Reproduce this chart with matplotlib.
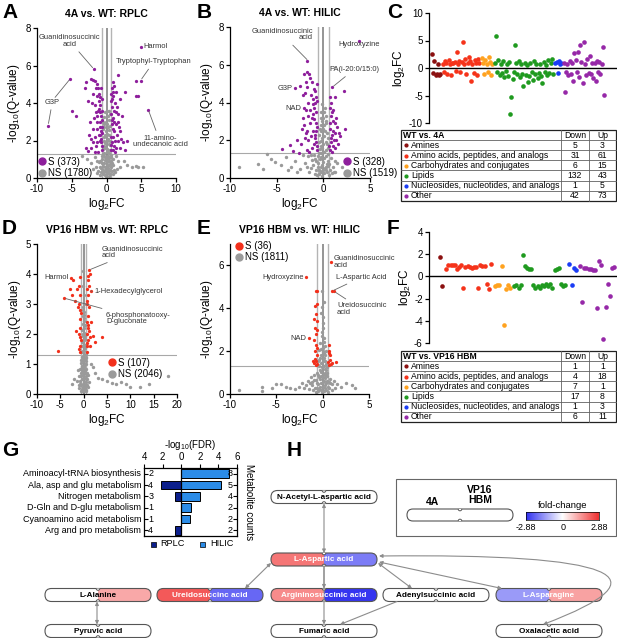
import numpy as np
import matplotlib
matplotlib.use('Agg')
import matplotlib.pyplot as plt
from matplotlib.patches import FancyBboxPatch, Rectangle, Circle, FancyArrowPatch
from matplotlib.path import Path
from matplotlib.lines import Line2D
from matplotlib.colors import LinearSegmentedColormap

plt.rcParams['font.family'] = ['Liberation Sans', 'DejaVu Sans']
plt.rcParams['mathtext.fontset'] = 'custom'
plt.rcParams['mathtext.rm'] = 'Liberation Sans'
plt.rcParams['mathtext.it'] = 'Liberation Sans:italic'
plt.rcParams['mathtext.bf'] = 'Liberation Sans:bold'
plt.rcParams['axes.unicode_minus'] = False

W, H = 617, 638

# ---------------- data ----------------
# volcano A: 4A vs WT RPLC  (log2FC, -log10 q)
a_sig = np.array([
    [-0.7, 1.5], [-0.8, 1.9], [-0.9, 2.3], [-0.65, 2.7], [-1.0, 3.0], [-0.75, 3.3], [-1.2, 3.6], [-0.9, 3.9],
    [-0.7, 4.2], [-1.1, 4.5], [-0.8, 4.8], [-1.3, 5.0], [-1.6, 5.2], [-1.9, 5.25], [-2.2, 5.3], [-1.4, 4.4],
    [-1.7, 3.9], [-1.3, 2.6], [-1.6, 2.2], [-1.9, 1.9], [-2.2, 1.6], [-2.6, 1.45], [-3.0, 1.6], [-1.2, 1.4],
    [-1.5, 1.7], [-1.0, 2.0], [-2.0, 2.6], [-1.8, 3.2], [-2.4, 3.0], [-2.6, 4.1], [-3.1, 4.8], [-2.0, 4.5],
    [-1.1, 4.1], [-0.9, 3.5], [-0.7, 3.1], [-0.8, 2.5], [-1.3, 3.3], [-2.9, 5.1], [-1.5, 4.8], [-1.8, 5.8],
    [-0.65, 1.7], [-0.85, 2.1], [-1.15, 2.3], [-0.7, 2.4], [-1.0, 2.7], [-1.4, 3.0], [-1.1, 3.7], [-0.65, 3.6],
    [-1.5, 3.5], [-0.95, 4.3], [-1.2, 4.8], [-2.1, 4.0], [-2.5, 2.3], [-1.7, 1.4], [-1.35, 1.9],
    [-8.4, 2.8], [-5.2, 5.3], [-4.9, 3.55], [-4.4, 3.3], [-2.3, 2.1],
    [0.7, 1.5], [0.8, 1.9], [0.9, 2.2], [1.1, 2.5], [0.75, 2.9], [1.0, 3.2], [1.3, 3.5], [0.8, 3.8],
    [0.65, 4.1], [1.0, 4.4], [0.8, 4.8], [0.9, 5.1], [1.7, 5.5], [1.2, 2.0], [1.5, 2.3], [1.8, 2.7],
    [2.1, 2.1], [1.4, 1.6], [1.9, 1.6], [2.4, 1.9], [1.6, 3.0], [1.2, 4.0], [1.4, 4.6], [0.7, 3.4],
    [2.2, 3.3], [1.1, 1.7], [2.7, 1.5], [0.9, 4.6], [1.1, 3.0], [0.7, 2.2],
    [0.65, 1.75], [0.9, 2.6], [1.3, 2.9], [0.75, 3.1], [1.05, 3.6], [1.5, 3.8], [0.85, 4.2], [1.1, 4.9],
    [0.7, 4.5], [1.6, 2.0], [2.0, 2.5], [1.25, 1.4], [0.95, 1.5], [1.7, 3.4], [2.0, 4.2],
    [4.9, 7.0], [4.9, 5.2], [4.3, 5.2], [4.2, 4.4], [4.5, 4.4], [6.0, 3.65], [3.0, 2.0], [2.6, 4.6]])
a_ns = np.array([
    [-0.5, 0.2], [-0.3, 0.3], [0.0, 0.25], [0.3, 0.35], [0.5, 0.2], [-0.6, 0.5], [-0.2, 0.6], [0.2, 0.55],
    [0.6, 0.6], [-0.4, 0.8], [0.0, 0.85], [0.4, 0.9], [-0.7, 1.0], [-0.2, 1.1], [0.2, 1.2], [0.7, 1.1],
    [-0.5, 1.3], [0.0, 1.4], [0.5, 1.5], [-0.3, 1.7], [0.3, 1.8], [0.0, 2.0], [-0.4, 2.2], [0.4, 2.3],
    [-0.1, 2.5], [0.2, 2.7], [-0.3, 2.9], [0.3, 3.1], [0.0, 3.3], [-0.2, 3.5], [0.35, 3.6], [-0.8, 0.3],
    [0.8, 0.4], [-1.0, 0.6], [1.0, 0.7], [-1.2, 0.4], [1.2, 0.3], [-0.9, 0.9], [0.9, 1.0], [-0.1, 0.1],
    [0.1, 0.45], [-0.6, 1.2], [0.6, 1.25], [-0.35, 0.4], [0.35, 0.7], [0.0, 0.6], [-0.15, 1.6], [0.15, 2.1],
    [0.45, 2.8], [-0.45, 2.6], [-0.1, 3.0], [0.1, 1.0], [-0.25, 0.95], [0.25, 1.5],
    [-0.55, 0.35], [-0.15, 0.45], [0.25, 0.25], [0.55, 0.45], [-0.45, 0.65], [0.05, 0.7], [0.45, 0.75],
    [-0.65, 0.8], [-0.05, 1.05], [0.35, 1.05], [-0.4, 1.15], [0.65, 0.9], [-0.3, 1.35], [0.3, 1.35],
    [-0.55, 1.55], [0.1, 1.55], [0.55, 1.75], [-0.2, 1.85], [0.45, 2.0], [-0.35, 2.0], [0.1, 2.35],
    [-0.2, 2.3], [0.3, 2.55], [-0.35, 2.7], [0.1, 2.9], [-0.5, 3.0], [0.2, 3.3], [-0.35, 3.25], [0.5, 3.4],
    [0.05, 3.55], [-0.8, 0.55], [0.85, 0.8], [-1.1, 0.85], [1.1, 0.45], [-0.9, 0.15], [0.9, 0.2],
    [-1.4, 0.25], [1.5, 0.5], [-0.25, 0.15], [0.3, 0.1],
    [-3.5, 1.2], [-2.8, 1.0], [-2.2, 0.8], [-1.6, 1.1], [-2.0, 0.5], [-1.5, 0.6], [2.0, 0.6], [2.5, 0.9],
    [3.0, 0.7], [3.6, 0.6], [4.2, 0.65], [4.6, 0.6], [5.3, 0.6], [1.6, 0.9], [-1.3, 0.9], [1.4, 1.15]])

# volcano B: 4A vs WT HILIC
b_sig = np.array([
    [-0.7, 1.5], [-0.8, 1.9], [-0.9, 2.3], [-0.7, 2.7], [-1.0, 3.1], [-0.8, 3.5], [-1.1, 3.9], [-0.75, 4.3],
    [-1.0, 4.7], [-1.2, 5.1], [-1.5, 5.5], [-1.8, 5.6], [-2.1, 5.5], [-1.3, 4.4], [-1.6, 4.0], [-1.9, 3.6],
    [-2.2, 3.2], [-1.4, 2.9], [-1.7, 2.5], [-2.0, 2.1], [-2.4, 1.8], [-1.2, 1.6], [-1.5, 1.4], [-1.8, 1.5],
    [-2.3, 2.6], [-2.0, 4.5], [-1.1, 3.4], [-0.9, 4.0], [-1.4, 5.3], [-1.7, 6.2], [-2.5, 4.9], [-1.3, 2.2],
    [-1.0, 1.8], [-2.8, 2.0], [-0.7, 5.0], [-1.6, 3.3], [-0.8, 2.5],
    [-0.65, 1.7], [-0.85, 2.1], [-1.1, 2.5], [-0.75, 2.9], [-1.25, 3.2], [-0.95, 3.7], [-1.4, 3.6],
    [-0.7, 4.1], [-1.15, 4.2], [-1.7, 4.8], [-0.85, 4.6], [-1.9, 5.1], [-2.2, 4.4], [-1.6, 2.0],
    [-2.1, 2.8], [-1.9, 2.4],
    [-3.0, 4.75], [-2.07, 3.7], [-3.6, 1.75], [-4.4, 1.55], [-2.6, 1.35], [-3.2, 1.45],
    [0.7, 1.5], [0.8, 1.9], [0.9, 2.3], [0.7, 2.6], [1.0, 3.0], [0.8, 3.3], [0.7, 3.7], [0.8, 4.0],
    [0.93, 4.8], [1.1, 2.0], [1.3, 2.4], [1.5, 2.7], [1.2, 1.6], [1.6, 1.8], [0.9, 1.4], [1.0, 3.6],
    [1.2, 4.3], [2.2, 4.6], [2.3, 2.6], [1.8, 2.2], [1.4, 3.2],
    [0.65, 1.7], [0.85, 2.1], [1.05, 2.5], [0.75, 2.9], [1.2, 2.9], [0.9, 3.5], [0.7, 4.3], [1.4, 2.0],
    [1.7, 2.4], [1.05, 1.7], [3.8, 7.25]])
b_ns = np.array([
    [-0.5, 0.2], [-0.2, 0.3], [0.1, 0.25], [0.4, 0.3], [-0.8, 0.4], [0.7, 0.45], [-0.3, 0.6], [0.2, 0.55],
    [-1.1, 0.7], [1.0, 0.6], [-0.6, 0.8], [0.0, 0.85], [0.5, 0.9], [-0.9, 1.0], [-0.3, 1.1], [0.3, 1.15],
    [0.8, 1.05], [-1.3, 1.2], [-0.5, 1.3], [0.1, 1.4], [0.5, 1.6], [-0.3, 1.7], [0.25, 1.9], [-0.1, 2.1],
    [-0.45, 2.3], [0.4, 2.4], [0.0, 2.6], [-0.3, 2.8], [0.3, 3.0], [0.0, 3.2], [-0.2, 3.5], [0.2, 3.7],
    [-1.5, 0.3], [1.3, 0.3], [-1.8, 0.6], [-0.1, 0.1], [0.6, 0.15], [-0.7, 0.15], [-1.2, 0.95], [1.2, 0.9],
    [-0.45, 0.45], [0.35, 0.75], [-0.15, 1.6], [0.1, 2.2], [-0.5, 1.9], [0.5, 2.1], [0.0, 0.4], [-0.25, 2.5],
    [0.25, 2.9], [-0.1, 3.9],
    [-0.4, 0.35], [0.25, 0.45], [-0.6, 0.6], [0.55, 0.65], [-0.1, 0.7], [0.3, 0.6], [-0.8, 0.9],
    [0.65, 0.75], [-0.4, 1.0], [0.1, 1.05], [0.45, 1.25], [-0.6, 1.15], [-0.2, 1.35], [0.3, 1.5],
    [-0.4, 1.55], [0.0, 1.8], [0.4, 1.8], [-0.2, 1.95], [0.15, 2.5], [-0.35, 2.6], [0.1, 2.8],
    [-0.15, 3.0], [0.25, 3.3], [-0.3, 3.2], [0.05, 3.5], [-0.9, 0.2], [0.9, 0.25], [-1.3, 0.55],
    [1.1, 0.3], [-1.0, 1.2],
    [-9.0, 0.6], [-7.0, 0.75], [-6.0, 1.25], [-5.6, 1.0], [-5.2, 0.85], [-4.5, 0.7], [-4.0, 1.1], [-3.5, 0.6],
    [-3.0, 0.9], [-2.5, 0.5], [-2.0, 0.8], [-1.6, 1.15], [1.5, 0.8], [2.0, 0.6], [-6.5, 0.5], [-3.8, 0.4],
    [-2.8, 0.3], [-2.2, 1.2]])

# volcano D: VP16 HBM vs WT RPLC
d_sig = np.array([
    [-0.7, 1.4], [-0.8, 1.6], [-0.65, 1.8], [-0.9, 2.0], [-0.7, 2.2], [-0.8, 2.5], [-0.65, 2.7], [-0.9, 3.0],
    [-0.75, 3.3], [-1.0, 3.6], [-0.8, 3.9], [-1.2, 2.9], [-1.1, 1.5], [-0.7, 1.9], [-0.75, 2.8],
    [-5.5, 1.45], [-4.3, 3.2], [-3.0, 3.5], [-2.7, 3.87], [-2.2, 3.8], [-1.5, 3.5], [-2.5, 3.3], [-1.9, 3.1],
    [-1.6, 2.1],
    [0.7, 1.4], [0.8, 1.6], [0.9, 1.8], [0.7, 2.0], [1.0, 2.2], [0.75, 2.4], [0.9, 2.6], [1.1, 2.9],
    [0.8, 3.1], [1.0, 3.3], [1.2, 3.6], [0.9, 3.8], [1.1, 4.13], [1.3, 4.0], [0.65, 3.5], [1.57, 3.43],
    [1.2, 2.1], [1.4, 1.6], [1.3, 1.9], [0.7, 1.7], [0.85, 2.3], [0.7, 3.0], [1.0, 3.95],
    [2.0, 1.95], [2.5, 1.75], [4.0, 1.9], [1.6, 2.4]])
d_ns = np.array([
    [-0.6, 0.1], [-0.3, 0.15], [0.0, 0.1], [0.3, 0.2], [0.6, 0.15], [-0.5, 0.3], [-0.1, 0.35], [0.2, 0.3],
    [0.5, 0.4], [-0.7, 0.45], [-0.3, 0.5], [0.1, 0.55], [0.4, 0.6], [0.8, 0.5], [-0.5, 0.7], [-0.1, 0.75],
    [0.3, 0.8], [0.7, 0.7], [-0.8, 0.85], [-0.3, 0.9], [0.1, 0.95], [0.5, 1.0], [-0.6, 1.05], [-0.2, 1.1],
    [0.2, 1.15], [0.6, 1.2], [-0.4, 1.25], [0.0, 1.3], [0.4, 1.35], [-0.2, 1.45], [0.2, 1.55], [0.0, 1.65],
    [-0.3, 1.75], [0.3, 1.85], [-0.1, 1.95], [0.1, 2.05], [-0.3, 2.15], [0.25, 2.3], [0.0, 2.45], [-0.2, 2.6],
    [0.15, 2.75], [-0.05, 2.9], [-0.9, 0.2], [0.9, 0.25], [-1.0, 0.6], [1.0, 0.65], [-0.05, 0.2], [-0.45, 0.95],
    [0.45, 1.1], [0.05, 0.4], [-0.05, 4.1], [0.1, 3.3], [-0.15, 3.6],
    [-0.4, 0.1], [0.4, 0.1], [-0.2, 0.25], [0.1, 0.2], [-0.6, 0.6], [0.6, 0.5], [-0.2, 0.65], [0.2, 0.7],
    [-0.4, 0.8], [0.4, 0.85], [0.0, 0.9], [-0.5, 1.15], [0.3, 1.0], [-0.1, 1.2], [0.5, 1.25], [-0.3, 1.4],
    [0.1, 1.45], [-0.45, 1.6], [0.35, 1.65], [0.0, 1.8], [-0.2, 2.0], [0.2, 1.95], [0.0, 2.2], [-0.1, 2.35],
    [0.1, 2.55], [0.05, 2.65], [-0.1, 2.8], [0.0, 3.0], [-0.8, 0.35], [0.75, 0.3], [-1.1, 0.3], [1.2, 0.4],
    [-1.5, 0.45], [-2.0, 0.5], [-1.2, 0.8], [-2.5, 0.35], [1.5, 1.0], [2.0, 0.9], [2.5, 0.7], [3.0, 0.55],
    [4.0, 0.5], [5.0, 0.45], [6.0, 0.38], [7.0, 0.35], [8.0, 0.4], [9.0, 0.35], [10.0, 0.22], [12.0, 0.25],
    [14.0, 0.35], [18.0, 0.6]])

# volcano E: VP16 HBM vs WT HILIC
e_sig = np.array([
    [-0.75, 4.8], [-0.6, 4.8], [-0.8, 4.1], [-0.6, 4.2], [-0.7, 3.75], [-0.65, 3.4], [-0.8, 3.1], [-0.6, 3.0],
    [-0.75, 2.8], [-0.9, 2.5], [-0.7, 2.3], [-0.6, 2.15], [-0.85, 2.0], [-0.65, 1.8], [-0.8, 1.65], [-0.7, 1.55],
    [-0.9, 1.45], [-0.6, 1.4], [-1.0, 1.55], [-0.75, 1.35], [-1.8, 5.45], [-1.5, 2.6], [-0.95, 3.5],
    [0.9, 6.15], [1.0, 4.8], [1.2, 4.8], [0.65, 2.3], [0.7, 2.0], [0.75, 1.6], [0.6, 1.5], [1.0, 1.45],
    [1.4, 1.5], [0.7, 1.35], [0.8, 1.8], [0.65, 1.9], [0.9, 1.4]])
e_ns = np.array([
    [-0.5, 0.15], [-0.2, 0.2], [0.1, 0.15], [0.4, 0.2], [-0.8, 0.3], [0.7, 0.3], [-0.3, 0.35], [0.2, 0.4],
    [-1.1, 0.4], [1.0, 0.45], [-0.6, 0.5], [0.0, 0.55], [0.5, 0.6], [-0.9, 0.65], [-0.3, 0.7], [0.3, 0.75],
    [0.8, 0.7], [-1.3, 0.8], [-0.5, 0.9], [0.1, 0.95], [0.5, 1.0], [-0.3, 1.1], [0.25, 1.15], [-0.1, 1.25],
    [-0.45, 1.35], [0.4, 1.4], [0.0, 1.55], [-0.3, 1.7], [0.3, 1.8], [0.0, 1.95], [-0.2, 2.1], [0.2, 2.25],
    [-1.5, 0.25], [1.3, 0.3], [-1.8, 0.4], [-0.1, 0.1], [0.6, 0.1], [-0.7, 0.1], [-1.2, 0.55], [1.2, 0.6],
    [-0.45, 0.45], [0.35, 0.5], [-0.15, 0.85], [0.1, 1.7], [-0.5, 1.55], [0.5, 1.25], [0.0, 0.35], [-0.25, 2.4],
    [0.15, 2.6], [-0.1, 2.9], [0.05, 3.3], [-0.2, 3.8], [0.1, 4.3], [-0.1, 4.8], [0.0, 2.0], [0.3, 0.9],
    [-0.4, 0.25], [0.3, 0.3], [-0.6, 0.3], [0.55, 0.35], [-0.2, 0.5], [0.15, 0.6], [-0.7, 0.65], [0.65, 0.55],
    [-0.4, 0.8], [0.05, 0.8], [0.45, 0.85], [-0.6, 1.0], [-0.15, 1.05], [0.2, 1.0], [-0.35, 1.3], [0.35, 1.1],
    [0.1, 1.3], [-0.2, 1.45], [0.25, 1.55], [-0.4, 1.6], [0.15, 1.9], [-0.15, 1.8], [0.35, 2.0], [-0.35, 2.05],
    [0.05, 2.15], [0.1, 2.45], [-0.05, 2.7], [0.0, 3.1], [0.05, 3.6], [-0.1, 4.05], [-1.0, 0.2], [1.0, 0.2],
    [-1.4, 0.5], [1.5, 0.45], [-0.9, 0.9], [0.8, 0.5],
    [-9.0, 0.2], [-6.5, 0.35], [-6.5, 0.15], [-5.5, 0.3], [-5.0, 0.45], [-4.5, 0.45], [-4.0, 0.35], [-3.5, 0.3],
    [-3.0, 0.25], [-2.5, 0.35], [-2.0, 0.3], [-2.2, 0.5], [3.2, 0.4], [3.5, 0.3], [2.5, 0.5], [2.0, 0.35],
    [-1.6, 0.6]])

# class strip plots (log2FC per metabolite, grouped by class)
classes = ['Amines', 'Amino acids, peptides, and analogs', 'Carbohydrates and conjugates',
           'Lipids', 'Nucleosides, nucleotides, and analogs', 'Other']
class_colors = ['#8b1010', '#f5331a', '#ffa21f', '#1f9a1f', '#1a3cf5', '#9628a8']

c_amines = [2.6, -0.9, 1.3, -1.2, -1.0, 0.8, -1.3, -1.1]
c_amino = [0.8, -0.7, 1.2, 0.9, -1.0, 1.5, 0.7, -1.3, 1.0, 0.9, 1.1, -0.6, 2.9, 0.7, 1.3, -0.8,
           1.1, 4.8, 0.7, 1.6, -1.1, 0.9, 2.0, 1.2, -2.3, 0.8, -0.9, 1.4, 1.0, -1.2, 1.7, 0.9]
c_carb = [1.8, 0.9, -1.0, 1.4, 0.7, -0.8, 2.0, 1.1, -1.3, 0.8]
c_lipids = [1.0, 5.9, -0.7, 1.5, -1.2, 0.8, -0.9, 1.2, -1.6, -0.6, 0.7, -1.4, 1.1, -8.4, -5.3, -2.0,
            -0.8, 4.2, 0.9, -1.1, 1.3, -1.7, 0.8, -1.0, -3.2, 1.0, -1.3, 0.6, -2.6, -1.5, 0.9, -0.8,
            -2.2, 1.2, -1.1, 0.7, -1.9, -0.9, 0.8, -1.4, -2.7, 1.1, -0.7, 0.6, -1.2, 1.5, -0.9, 0.9,
            1.7, -1.0]
c_nucleo = [0.9, 1.1, -0.9, 1.2, 0.8, 1.0]
c_other = [1.0, -4.4, -0.8, 0.7, -1.3, 1.2, -1.0, 0.9, -2.3, 2.7, 1.4, -0.7, 3.0, -1.6, 4.2, 1.1,
           -2.8, 4.7, 0.8, -1.2, 1.6, -0.9, 2.2, -1.1, 1.0, -1.8, 0.9, -2.4, 1.3, -0.8, 1.1, -1.0,
           0.8, 3.9, -4.9]
c_down = [5, 31, 6, 132, 1, 42]
c_up = [3, 61, 15, 43, 5, 73]

f_amines = [1.75, -0.85]
f_amino = [0.7, 1.0, 1.0, 1.0, 1.0, 0.7, 0.85, 1.05, -1.0, 0.85, 0.9, 0.85, 0.8, 0.85, 0.82, -1.0,
           1.05, 0.9, 0.95, -0.7, -1.1, 1.15]
f_carb = [-0.9, -0.8, -0.8, 0.95, -4.35, -1.1, -0.8, -1.0]
f_lipids = [-0.9, -0.75, -1.0, -0.8, 1.9, 0.9, 0.75, 0.7, 0.7, -0.75, -1.0, -0.85, -1.0, -0.75, -0.85,
            -0.7, -0.85, -0.7, -1.0, 0.6, 0.7, 0.75, -0.7, -0.85, -0.75]
f_nucleo = [1.1, -0.75, 0.75, 0.6]
f_other = [0.9, -2.35, 0.8, 0.75, 0.7, 0.65, 0.6, 0.6, -2.85, 1.35, 1.05, -5.6, -2.8, -0.65, -1.8,
           0.75, 0.85]
f_down = [1, 4, 7, 17, 1, 6]
f_up = [1, 18, 1, 8, 3, 11]

# G: pathway enrichment
g_paths = ['Aminoacyl-tRNA biosynthesis', 'Ala, asp and glu metabolism', 'Nitrogen metabolism',
           'D-Gln and D-glu metabolism', 'Cyanoamino acid metabolism', 'Arg and pro metabolism']
g_rplc = [0.0, 2.2, 0.7, 0.0, 0.0, 0.7]
g_hilic = [5.1, 4.3, 2.0, 1.1, 0.9, 0.0]
g_rplc_n = [2, 4, 3, 1, 1, 4]
g_hilic_n = [8, 5, 4, 2, 2, 2]

# H: pathway nodes, fold-change (4A, VP16 HBM); nan = not detected
h_names = ['N-Acetyl-L-aspartic acid', 'L-Aspartic acid', 'L-Alanine', 'Ureidosuccinc acid',
           'Argininosuccinic acid', 'Adenylsuccinic acid', 'L-Asparagine', 'Pyruvic acid',
           'Fumaric acid', 'Oxalacetic acid']
h_fc_4a = [np.nan, 1.9, np.nan, 2.3, 1.6, np.nan, -1.4, np.nan, np.nan, np.nan]
h_fc_vp16 = [np.nan, -1.8, 1.2, -2.1, -2.8, np.nan, 1.3, np.nan, np.nan, np.nan]
fc_max = 2.88

# ---------------- figure ----------------
fig = plt.figure(figsize=(W / 100, H / 100), dpi=100)
canvas = fig.add_axes([0, 0, 1, 1])
canvas.set_xlim(0, W)
canvas.set_ylim(H, 0)
canvas.axis('off')


def px_axes(x0, y0, x1, y1):
    return fig.add_axes([x0 / W, 1 - y1 / H, (x1 - x0) / W, (y1 - y0) / H])


def style(ax):
    for s in ['top', 'right']:
        ax.spines[s].set_visible(False)
    for s in ['left', 'bottom']:
        ax.spines[s].set_linewidth(0.9)
    ax.tick_params(length=3, width=0.9, labelsize=7, pad=1.5)
    ax.patch.set_alpha(0)


def volcano(rect, sig, ns, col, xlim, xticks, ylim, yticks, title, labels, loc, anchor):
    ax = px_axes(*rect)
    style(ax)
    ax.axhline(1.3, color='#a8a8a8', lw=0.8, zorder=1)
    for v in (-0.6, 0.6):
        ax.axvline(v, color='#b4b4b4', lw=1.0, zorder=1)
    ax.axvline(0, color='#8c8c8c', lw=1.3, zorder=1)
    ax.scatter(ns[:, 0], ns[:, 1], s=6, color='#9a9a9a', lw=0, zorder=2, clip_on=False)
    ax.scatter(sig[:, 0], sig[:, 1], s=5.5, color=col, lw=0, zorder=3, clip_on=False)
    ax.set_xlim(xlim)
    ax.set_ylim(ylim)
    ax.set_xticks(xticks)
    ax.set_yticks(yticks)
    ax.set_title(title, fontsize=7.5, fontweight='bold', pad=8)
    ax.set_xlabel('log$_2$FC', fontsize=8.5, labelpad=1)
    ax.set_ylabel('-log$_{10}$(Q-value)', fontsize=8.5, labelpad=2)
    hs = [Line2D([], [], marker='o', ls='', color=col, markersize=5),
          Line2D([], [], marker='o', ls='', color='#9a9a9a', markersize=5)]
    ax.legend(hs, labels, loc=loc, bbox_to_anchor=anchor, frameon=False, fontsize=7,
              handletextpad=0.1, borderaxespad=0, labelspacing=0.15, handlelength=1.0, borderpad=0)
    return ax


def note(ax, label, pt, txt, ha='center', line=True):
    props = dict(arrowstyle='-', color='#666666', lw=0.6, shrinkA=1, shrinkB=1.5) if line else None
    ax.annotate(label, xy=pt, xytext=txt, fontsize=5.4, color='#333333', ha=ha, va='center',
                arrowprops=props, linespacing=0.95, zorder=5)


axA = volcano((37, 28, 176, 178), a_sig, a_ns, '#8e1f9c', (-10, 10), [-10, -5, 0, 5, 10], (0, 8),
              [0, 2, 4, 6, 8], '4A vs. WT: RPLC', ['S (373)', 'NS (1780)'], 'lower left', (0.0, 0.0))
note(axA, 'Guanidinosuccinic\nacid', (-1.8, 5.8), (-5.3, 7.3))
note(axA, 'Harmol', (4.9, 7.0), (5.3, 7.0), ha='left', line=False)
note(axA, 'Tryptophyl-Tryptophan', (4.9, 5.2), (6.8, 6.2))
note(axA, 'G3P', (-8.4, 2.8), (-7.8, 4.05))
axA.annotate('', xy=(-5.2, 5.3), xytext=(-7.4, 4.3),
             arrowprops=dict(arrowstyle='-', color='#666666', lw=0.6, shrinkA=0, shrinkB=1.5))
note(axA, '11-amino-\nundecanoic acid', (6.0, 3.65), (7.7, 1.95))

axB = volcano((230, 27, 370, 178), b_sig, b_ns, '#8e1f9c', (-10, 5), [-10, -5, 0, 5], (0, 8),
              [0, 2, 4, 6, 8], '4A vs. WT: HILIC', ['S (328)', 'NS (1519)'], 'lower left', (0.8, 0.0))
note(axB, 'Guanidinosuccinic\nacid', (-1.6, 6.2), (-1.1, 7.6), ha='right')
note(axB, 'Hydroxyzine', (3.8, 7.25), (3.8, 7.05), line=False)
note(axB, 'PA(i-20:0/15:0)', (0.93, 4.8), (3.3, 5.75))
note(axB, 'G3P', (-3.0, 4.75), (-3.3, 4.75), ha='right', line=False)
note(axB, 'NAD', (-2.07, 3.7), (-2.35, 3.7), ha='right', line=False)

axD = volcano((37, 244, 177, 394), d_sig, d_ns, '#f2301c', (-10, 20), [-10, -5, 0, 5, 10, 15, 20], (0, 5),
              [0, 1, 2, 3, 4, 5], 'VP16 HBM vs. WT: RPLC', ['S (107)', 'NS (2046)'], 'lower left', (0.5, 0.1))
note(axD, 'Guanidinosuccinic\nacid', (1.1, 4.13), (3.8, 4.72), ha='left')
note(axD, 'Harmol', (-2.7, 3.87), (-3.2, 3.87), ha='right', line=False)
note(axD, '1-Hexadecylglycerol', (1.57, 3.43), (2.4, 3.43), ha='left')
note(axD, '6-phosphonatooxy-\nD-gluconate', (-4.3, 3.2), (4.8, 2.52), ha='left')

axE = volcano((230, 244, 369, 394), e_sig, e_ns, '#f2301c', (-10, 5), [-10, -5, 0, 5], (0, 7),
              [0, 2, 4, 6], 'VP16 HBM vs. WT: HILIC', ['S (36)', 'NS (1811)'], 'upper left', (0.03, 1.02))
note(axE, 'Guanidinosuccinic\nacid', (0.9, 6.15), (1.15, 6.15), ha='left', line=False)
note(axE, 'Hydroxyzine', (-1.8, 5.45), (-2.05, 5.45), ha='right', line=False)
note(axE, 'L-Aspartic Acid', (1.0, 4.8), (1.45, 5.45), ha='left')
note(axE, 'Ureidosuccinic\nacid', (1.2, 4.8), (1.55, 3.95), ha='left')
note(axE, 'NAD', (-1.5, 2.6), (-1.75, 2.6), ha='right', line=False)


def strip(rect, groups, ylim, yticks, first_px, last_px):
    ax = px_axes(*rect)
    style(ax)
    ax.spines['bottom'].set_visible(False)
    ax.set_xticks([])
    ax.axhline(0, color='black', lw=1.0, zorder=1)
    pos = 0
    for vals, col in zip(groups, class_colors):
        x = pos + np.arange(len(vals))
        ax.scatter(x, vals, s=11, color=col, lw=0, zorder=2)
        pos += len(vals) + 1
    n_last = pos - 2
    k = (last_px - first_px) / n_last
    ax.set_xlim(-(first_px - rect[0]) / k, n_last + (rect[2] - last_px) / k)
    ax.set_ylim(ylim)
    ax.set_yticks(yticks)
    ax.set_ylabel('log$_2$FC', fontsize=8.5, labelpad=1)
    return ax


strip((429, 13, 617, 123), [c_amines, c_amino, c_carb, c_lipids, c_nucleo, c_other],
      (-10, 10), [-10, -5, 0, 5, 10], 432, 604)
strip((429, 232, 617, 343), [f_amines, f_amino, f_carb, f_lipids, f_nucleo, f_other],
      (-6, 4), [-6, -4, -2, 0, 2, 4], 440, 614)


def table(y0, header, down, up):
    x0, xa, xb, x1 = 401, 561, 589, 616
    rh = 10.1
    n = len(classes) + 1
    for i in range(1, n):
        canvas.plot([x0, x1], [y0 + i * rh] * 2, color='#606060', lw=0.6)
    for xv in (xa, xb):
        canvas.plot([xv, xv], [y0, y0 + n * rh], color='#606060', lw=0.6)
    canvas.add_patch(Rectangle((x0, y0), x1 - x0, n * rh, fill=False, ec='#222222', lw=0.9))
    canvas.text(x0 + 2, y0 + rh / 2 + 0.3, header, fontsize=6.2, fontweight='bold', va='center')
    canvas.text((xa + xb) / 2, y0 + rh / 2 + 0.3, 'Down', fontsize=6.2, ha='center', va='center')
    canvas.text((xb + x1) / 2, y0 + rh / 2 + 0.3, 'Up', fontsize=6.2, ha='center', va='center')
    for i, (name, col, d, u) in enumerate(zip(classes, class_colors, down, up)):
        yc = y0 + (i + 1.5) * rh + 0.3
        canvas.plot(x0 + 5, yc, 'o', color=col, ms=2)
        canvas.text(x0 + 10, yc, name, fontsize=6.2, va='center')
        canvas.text((xa + xb) / 2, yc, str(d), fontsize=6.2, ha='center', va='center')
        canvas.text((xb + x1) / 2, yc, str(u), fontsize=6.2, ha='center', va='center')


table(130, 'WT vs. 4A', c_down, c_up)
table(351, 'WT vs. VP16 HBM', f_down, f_up)

# ---- G ----
axG = px_axes(144, 468, 237, 536)
axG.patch.set_alpha(0)
yy = np.arange(len(g_paths))
axG.barh(yy, [-v for v in g_rplc], height=0.75, color='#0c1f8c', ec='black', lw=0.7)
axG.barh(yy, g_hilic, height=0.75, color='#2b8ce8', ec='black', lw=0.7)
axG.axvline(0, color='black', lw=0.9)
axG.set_xlim(-4, 6)
axG.set_ylim(5.5, -0.5)
axG.xaxis.tick_top()
axG.xaxis.set_label_position('top')
axG.set_xticks([-4, -2, 0, 2, 4, 6])
axG.set_xticklabels(['4', '2', '0', '2', '4', '6'])
axG.set_xlabel('-log$_{10}$(FDR)', fontsize=7, labelpad=3)
axG.set_yticks(yy)
axG.tick_params(axis='x', length=3, width=0.8, labelsize=7, pad=1)
axG.tick_params(axis='y', direction='in', left=True, right=True, length=3, width=0.8,
                labelleft=False, labelright=False)
for s in axG.spines.values():
    s.set_linewidth(0.9)
for i in yy:
    axG.annotate(g_paths[i], (-4, i), xytext=(-2, 0), textcoords='offset points',
                 ha='right', va='center', fontsize=6.5)
    axG.annotate(str(g_rplc_n[i]), (-4, i), xytext=(3, 0), textcoords='offset points',
                 ha='left', va='center', fontsize=6.5)
    axG.annotate(str(g_hilic_n[i]), (6, i), xytext=(-3, 0), textcoords='offset points',
                 ha='right', va='center', fontsize=6.5)
canvas.text(249, 502, 'Metabolite counts', rotation=-90, fontsize=7, ha='center', va='center')
canvas.add_patch(Rectangle((151, 541.5), 5, 5, color='#0c1f8c', ec='black', lw=0.5))
canvas.text(160, 544, 'RPLC', fontsize=6.6, va='center')
canvas.add_patch(Rectangle((200, 541.5), 5, 5, color='#2b8ce8', ec='black', lw=0.5))
canvas.text(210, 544, 'HILIC', fontsize=6.6, va='center')

# ---- H ----
cmap = LinearSegmentedColormap.from_list('fc', ['#3030f0', '#ffffff', '#f03030'])


def fc_color(v):
    if np.isnan(v):
        return 'white'
    return cmap((v + fc_max) / (2 * fc_max))


def node(xc, yc, name, left, right, w=106, h=13):
    x0 = xc - w / 2
    pill = FancyBboxPatch((x0, yc - h / 2), w, h, boxstyle='round,pad=0,rounding_size=%g' % (h / 2),
                          fc='none', ec='#555555', lw=0.8, zorder=3)
    canvas.add_patch(pill)
    for xs, v in ((x0, left), (xc, right)):
        r = Rectangle((xs, yc - h / 2 - 1), w / 2, h + 2, fc=fc_color(v), ec='none', zorder=2)
        canvas.add_patch(r)
        r.set_clip_path(pill)
    for yy_ in (yc - h / 2, yc + h / 2):
        c = Circle((xc, yy_), 1.8, fc='white', ec='#555555', lw=0.7, zorder=4)
        canvas.add_patch(c)
        c.set_clip_path(pill)
    if name:
        colored = not (np.isnan(left) or np.isnan(right))
        canvas.text(xc, yc + 0.3, name, fontsize=5.9, fontweight='bold', ha='center', va='center',
                    color='white' if colored else 'black', zorder=6)


node_xy = [(324, 497), (324, 559.5), (98, 595), (210, 595), (324, 595), (436, 595), (549, 595),
           (98, 631), (324, 631), (549, 631)]
for (xc, yc), name, l, r in zip(node_xy, h_names, h_fc_4a, h_fc_vp16):
    node(xc, yc, name, l, r)

akw = dict(color='#8c8c8c', lw=0.8, mutation_scale=5, shrinkA=0, shrinkB=0, zorder=5)


def arrow(p0, p1, style='<|-|>'):
    canvas.add_patch(FancyArrowPatch(p0, p1, arrowstyle=style, **akw))


arrow((324, 503.5), (324, 553))
arrow((324, 566), (324, 588.5), '-|>')
arrow((324, 566), (324, 624.5), '-|>')
arrow((271, 563), (245, 588.5))
arrow((378, 563), (412, 588.5))
arrow((379, 562), (502, 588.5))
arrow((397, 601.5), (340, 624.5), '-|>')
arrow((97, 601.5), (97, 624.5))
canvas.add_patch(FancyArrowPatch(path=Path([(379, 556), (735, 552), (543, 624.5)],
                                           [Path.MOVETO, Path.CURVE3, Path.CURVE3]),
                                 arrowstyle='<|-|>', **akw))

# legend box
canvas.add_patch(Rectangle((396, 479), 220, 57, fill=False, ec='#666666', lw=0.8))
canvas.text(433, 502, '4A', fontsize=7.5, fontweight='bold', ha='center', va='center')
canvas.text(480, 495, 'VP16\nHBM', fontsize=7.5, fontweight='bold', ha='center', va='center',
            linespacing=0.9)
node(460, 515, '', np.nan, np.nan, w=106, h=12)
canvas.text(563, 505, 'fold-change', fontsize=6.8, ha='center', va='center')
cax = px_axes(526, 512, 599, 520)
cax.imshow(np.linspace(-fc_max, fc_max, 256)[None, :], cmap=cmap, aspect='auto')
cax.set_xticks([])
cax.set_yticks([])
for s in cax.spines.values():
    s.set_linewidth(0.5)
for xv, lab in ((526, '-2.88'), (563, '0'), (599, '2.88')):
    canvas.text(xv, 528, lab, fontsize=6.5, ha='center', va='center')

# panel letters
for lab, x, y in (('A', 2, 13), ('B', 197, 13), ('C', 387, 13), ('D', 2, 228), ('E', 197, 228),
                  ('F', 387, 228), ('G', 2, 451), ('H', 287, 450)):
    canvas.text(x, y, lab, fontsize=15, fontweight='bold', ha='left', va='center')

fig.savefig('out.png', dpi=100)
